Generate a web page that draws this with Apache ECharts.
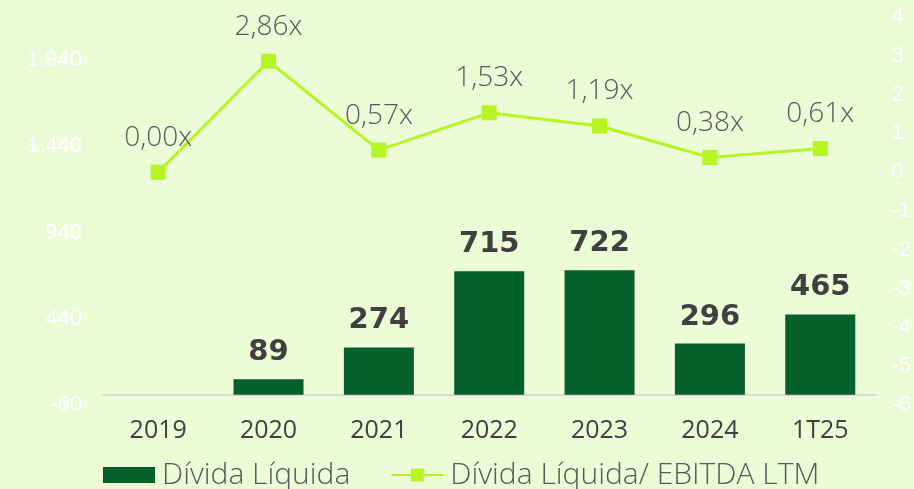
<!DOCTYPE html>
<html>
<head>
<meta charset="utf-8">
<script src="https://cdn.jsdelivr.net/npm/echarts@6/dist/echarts.min.js"></script>
<style>
  html, body { margin: 0; padding: 0; background: #ecfcd6; }
  #chart { width: 914px; height: 489px; }
</style>
</head>
<body>
<div id="chart"></div>
<script>
// categorias e séries
const categories = ['2019', '2020', '2021', '2022', '2023', '2024', '1T25']
const dividaLiquida = ['-', 89, 274, 715, 722, 296, 465]
const alavancagem = [0.0, 2.86, 0.57, 1.53, 1.19, 0.38, 0.61]
const leftTicks = [-60, 440, 940, 1440, 1940]

const light = "'Open Sans', 'Roboto', sans-serif"

const chart = echarts.init(document.getElementById('chart'), null, { renderer: 'canvas' })

chart.setOption({
  backgroundColor: '#ecfcd6',
  animation: false,
  grid: { left: 103, right: 37, top: 17, bottom: 84 },
  legend: {
    left: 103,
    top: 460,
    padding: 0,
    itemWidth: 52,
    itemHeight: 16,
    itemGap: 40,
    textStyle: { color: '#595959', fontSize: 30, fontWeight: 300, fontFamily: light, padding: [0, 0, 0, 2] },
    data: [
      { name: 'Dívida Líquida', icon: 'rect' },
      { name: 'Dívida Líquida/ EBITDA LTM' },
    ],
  },
  xAxis: {
    type: 'category',
    data: categories,
    axisLine: { onZero: true, onZeroAxisIndex: 0, lineStyle: { color: '#d8ddd0', width: 2 } },
    axisTick: { show: false },
    axisLabel: { color: '#404040', fontSize: 25, fontFamily: light, margin: 13 },
  },
  yAxis: [
    {
      type: 'value',
      min: -60,
      max: 2190,
      splitLine: { show: false },
      axisLine: { show: false },
      axisTick: { show: false },
      axisLabel: {
        customValues: leftTicks,
        color: '#ffffff',
        fontSize: 22,
        fontFamily: 'Liberation Sans, Arial, sans-serif',
        margin: 21,
        formatter: (v) => String(v).replace(/\B(?=(\d{3})+(?!\d))/g, '.'),
      },
    },
    {
      type: 'value',
      min: -6,
      max: 4,
      interval: 1,
      splitLine: { show: false },
      axisLine: { show: false },
      axisTick: { show: false },
      axisLabel: {
        color: '#ffffff',
        fontSize: 22,
        fontFamily: 'Liberation Sans, Arial, sans-serif',
        margin: 16,
      },
    },
  ],
  series: [
    {
      name: 'Dívida Líquida',
      type: 'bar',
      yAxisIndex: 0,
      data: dividaLiquida,
      barWidth: 70,
      itemStyle: { color: '#05602a' },
      label: {
        show: true,
        position: 'top',
        distance: 12,
        color: '#404040',
        fontSize: 29,
        fontWeight: 900,
        fontFamily: "'DejaVu Sans', sans-serif",
      },
    },
    {
      name: 'Dívida Líquida/ EBITDA LTM',
      type: 'line',
      yAxisIndex: 1,
      data: alavancagem,
      symbol: 'rect',
      symbolSize: 15,
      lineStyle: { color: '#b6f422', width: 3 },
      itemStyle: { color: '#b6f422' },
      label: {
        show: true,
        position: 'top',
        distance: 13,
        color: '#595959',
        fontSize: 28,
        fontWeight: 300,
        fontFamily: light,
        formatter: (p) => p.value.toFixed(2).replace('.', ',') + 'x',
      },
    },
  ],
})
</script>
</body>
</html>
